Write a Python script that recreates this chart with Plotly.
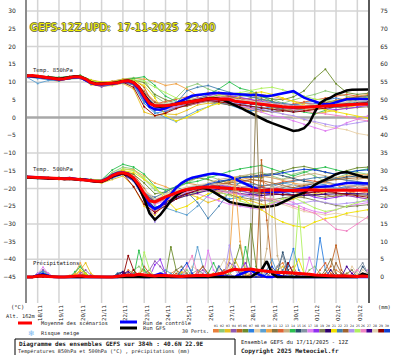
import plotly.graph_objects as go
import pandas as pd

def vals(s):
    return [float(v) for v in s.replace("|", " ").split()]

# ---------------- time axes ----------------
RUN_START = "2025-11-17 12:00"
RUN_END = "2025-12-03 12:00"
TIMES_6H = pd.date_range(RUN_START, periods=65, freq="6h")
TIMES_12H = pd.date_range(RUN_START, periods=33, freq="12h")
DAYS = pd.date_range("2025-11-18", "2025-12-03", freq="D")
DAY_LABELS = ["18/11", "19/11", "20/11", "21/11", "22/11", "23/11", "24/11", "25/11",
              "26/11", "27/11", "28/11", "29/11", "30/11", "01/12", "02/12", "03/12"]

LEFT_TICKS = [30, 25, 20, 15, 10, 5, 0, -5, -10, -15, -20, -25, -30, -35, -40, -45]
RIGHT_TICKS = [75, 70, 65, 60, 55, 50, 45, 40, 35, 30, 25, 20, 15, 10, 5, 0]
HGRID = [30, 20, 10, -10, -20, -30, -40]

MEMBER_COLORS = ["#e8803c", "#8cc878", "#e8c020", "#9058b0", "#c06424", "#6c8c2c",
                 "#2c80e0", "#e8d0a8", "#5ca0d0", "#f0a448", "#847444", "#e06434",
                 "#c8b084", "#2cc050", "#2c5070", "#8494a4", "#e080f0", "#9030f0",
                 "#808054", "#300070", "#f0e000", "#4480b0", "#a06430", "#b094f0",
                 "#b0f060", "#f084c4", "#400090", "#e0d0b0", "#900000", "#1040d0"]

# ---------------- 850 hPa temperature ----------------
T850_MEAN = vals("11.7 11.8 11.6 11.4 11.2 11.0 10.8 10.9 11.2 11.5 11.4 10.8 9.8 9.4 9.4 9.5 9.6 9.8 10.2 10.3 9.8 8.5 6.0 "
                 "4.0 3.3 3.2 3.3 3.5 3.8 4.1 4.4 4.6 4.8 5.0 5.3 5.3 5.1 5.2 5.1 4.6 4.4 4.3 4.0 3.8 3.7 3.5 3.3 3.1 "
                 "3.0 2.9 2.8 2.9 2.9 3.0 3.0 3.1 3.2 3.3 3.4 3.5 3.6 3.6 3.7 3.7 3.8")
T850_CTRL = vals("11.6 11.7 11.5 11.3 11.1 10.9 10.7 10.8 11.1 11.4 11.3 10.6 9.7 9.3 9.3 9.4 9.5 9.7 10.1 10.2 9.6 8.0 5.5 "
                 "3.0 2.3 2.2 2.6 3.3 4.0 4.8 5.6 6.1 6.3 6.5 6.8 6.9 6.9 6.8 6.7 6.5 6.3 6.2 6.3 6.4 6.2 6.0 6.2 6.5 "
                 "6.6 7.0 7.4 6.5 5.6 5.0 4.4 4.0 3.7 3.8 4.3 4.8 5.1 5.2 5.2 5.2 5.2")
T850_GFS = vals("11.8 11.7 11.5 11.4 11.3 11.1 10.9 11.0 11.3 11.6 11.5 10.9 9.9 9.5 9.5 9.6 9.7 9.9 10.3 10.4 9.9 8.6 "
                "6.5 4.2 3.2 3.0 3.2 3.5 3.8 4.1 4.3 4.6 4.9 5.2 5.4 5.5 5.3 4.8 4.2 3.5 2.8 2.0 1.2 0.5 -0.2 -1.0 -1.6 "
                "-2.2 -2.8 -3.4 -3.8 -3.6 -3.0 -1.5 1.5 4.0 5.0 5.6 6.5 7.0 7.6 7.8 7.9 7.9 7.9")
T850_PERTS = [
    "11.5 11.8 11.0 10.5 11.0 11.8 10.4 9.0 9.8 10.6 | 10.4 7.5 4.5 3.0 2.5 3.8 4.2 5.5 6.0 5.0 | 3.5 4.2 5.0 4.0 3.2 2.5 1.8 2.4 3.5 4.0 | 3.0 3.5 4.2",
    "11.8 11.4 11.5 11.0 10.8 11.0 9.5 9.8 10.2 10.8 | 11.2 10.5 6.0 4.0 5.5 8.5 9.5 8.0 7.0 5.8 | 6.5 7.0 6.0 5.2 4.0 5.0 5.8 6.5 7.5 6.8 | 6.0 5.5 5.2",
    "11.6 11.2 10.8 10.2 11.0 11.2 9.2 8.8 9.0 9.6 | 8.0 1.5 0.5 1.0 0.8 2.0 3.5 4.0 3.8 4.5 | 3.0 2.0 1.5 2.5 3.8 3.0 2.2 1.0 1.5 2.0 | 2.8 3.5 4.0",
    "11.7 11.5 11.3 10.6 11.4 11.0 9.6 8.6 9.4 10.0 | 9.6 5.0 2.0 2.5 3.5 4.5 5.5 6.0 5.5 4.2 | 3.5 2.8 2.0 1.5 2.5 3.5 4.0 3.8 3.2 2.8 | 3.2 3.8 4.5",
    "11.9 11.7 11.4 11.0 11.6 11.5 10.0 9.5 9.8 10.4 | 10.8 8.5 2.5 1.5 2.8 3.2 4.0 4.8 4.5 3.8 | 3.2 4.5 5.2 4.6 3.5 2.6 2.0 2.5 3.8 4.6 | 5.0 4.2 3.6",
    "11.6 11.6 11.1 10.9 11.3 11.7 10.2 9.6 9.9 10.5 | 10.6 9.8 6.5 5.0 4.0 5.0 6.2 6.8 6.0 5.5 | 5.0 5.5 5.8 5.2 5.0 5.8 7.5 11.0 13.6 9.5 | 7.0 6.5 6.8",
    "11.4 11.0 10.6 10.3 11.0 11.3 9.6 9.0 9.3 9.8 | 9.2 4.0 1.2 1.8 2.8 3.8 4.5 5.0 4.2 3.5 | 2.5 1.8 2.5 3.0 2.2 1.5 2.5 3.8 4.8 5.5 | 4.8 4.0 3.5",
    "11.8 11.9 11.5 11.2 11.5 11.6 10.3 9.7 9.7 10.3 | 10.0 7.0 3.5 3.2 4.2 5.0 5.6 6.0 5.8 6.5 | 5.5 4.2 3.0 2.0 1.0 0.2 -0.8 -1.5 -2.5 -3.0 | -3.5 -4.5 -5.0",
    "11.3 9.6 10.4 10.5 10.9 11.2 9.4 9.5 9.8 10.1 | 9.4 5.5 1.5 0.0 -1.2 0.5 2.0 3.0 4.5 3.8 | 4.0 3.2 2.8 2.0 2.6 3.4 4.2 4.5 3.8 3.0 | 3.5 4.2 4.8",
    "11.7 11.8 11.3 10.7 11.3 11.6 10.6 10.0 10.2 10.8 | 11.0 10.8 10.2 9.0 9.5 8.0 6.0 7.0 6.5 6.2 | 5.0 5.5 6.5 6.0 5.2 4.5 4.0 3.5 4.2 5.0 | 5.5 6.0 6.5",
    "11.6 11.5 11.0 10.8 11.1 11.3 9.8 9.5 9.5 10.0 | 9.2 6.8 3.0 2.5 3.0 3.2 4.0 4.5 4.0 3.5 | 3.0 2.5 2.0 1.5 1.8 2.2 2.6 3.2 3.5 3.0 | 2.5 2.8 3.0",
    "11.8 11.6 11.4 11.0 11.4 11.5 10.1 9.6 9.7 10.3 | 10.2 6.5 3.8 4.5 5.2 5.8 6.2 6.6 7.0 6.0 | 5.5 5.0 4.2 3.5 3.0 3.8 4.4 5.0 5.5 6.0 | 6.5 6.0 5.5",
    "11.5 11.7 11.2 10.9 11.2 11.3 9.9 9.3 9.6 10.2 | 9.7 5.8 3.0 2.8 3.2 4.0 4.6 5.1 5.3 5.0 | 4.5 4.0 3.8 3.2 2.8 2.5 2.4 2.8 3.0 3.4 | 3.8 4.0 4.2",
    "11.7 11.6 11.6 11.3 11.5 11.9 10.5 9.8 9.9 10.6 | 11.0 11.5 9.0 6.0 4.5 3.5 5.0 6.5 8.0 10.0 | 8.2 7.5 6.0 4.5 3.0 2.0 1.5 1.0 2.0 3.2 | 4.0 5.0 5.8",
    "11.6 11.4 11.1 10.8 11.2 11.4 9.7 9.4 9.6 10.2 | 9.6 5.2 2.8 3.0 3.6 4.2 4.8 5.3 5.0 4.6 | 4.2 3.9 3.5 3.0 2.7 2.5 2.7 3.0 3.3 3.6 | 3.8 3.7 3.9",
    "11.8 11.5 11.3 10.7 11.2 11.4 9.9 9.4 9.5 10.1 | 9.9 6.2 3.5 3.8 4.5 5.0 5.2 5.6 5.4 5.8 | 5.0 4.5 4.2 3.8 3.4 3.0 3.2 3.5 3.8 4.0 | 4.2 4.5 4.4",
    "11.7 11.6 11.2 10.9 11.1 11.2 9.7 9.3 9.5 10.0 | 9.5 5.0 2.5 2.2 3.0 3.5 4.0 4.8 4.5 4.0 | 3.2 2.5 1.5 0.5 0.0 -1.0 -2.0 -3.0 -3.8 -3.0 | -1.5 -0.5 0.5",
    "11.6 11.5 11.1 10.8 11.3 11.3 9.8 9.4 9.6 10.2 | 9.8 6.0 3.2 3.0 3.8 4.6 5.4 6.2 6.8 6.2 | 5.6 5.0 4.5 4.0 3.6 3.4 3.1 2.8 2.5 2.2 | 2.5 3.0 3.4",
    "11.7 11.6 11.3 10.8 11.2 11.5 9.9 9.5 9.7 10.3 | 10.0 6.6 3.6 3.4 3.9 4.4 4.9 5.4 5.2 5.2 | 4.7 4.2 3.9 3.5 3.2 3.0 3.2 3.3 3.5 3.7 | 3.9 4.1 4.2",
    "11.6 11.6 11.2 10.8 11.3 11.4 9.8 9.4 9.6 10.2 | 9.8 5.9 3.1 3.3 3.8 4.3 4.6 5.1 5.0 4.8 | 4.2 3.8 3.4 3.1 2.8 2.6 2.8 3.0 3.2 3.5 | 3.6 3.7 3.9",
    "11.8 11.7 11.4 11.0 11.4 11.6 10.5 9.9 10.0 10.6 | 10.4 9.0 5.5 0.5 -1.0 0.0 1.5 3.0 4.0 5.0 | 6.0 6.8 7.2 6.5 5.5 4.5 3.5 2.8 2.2 1.5 | 0.8 0.2 -0.2",
    "11.5 11.3 11.0 10.6 11.0 11.2 9.6 9.2 9.5 10.0 | 9.4 4.5 2.0 2.8 4.0 7.5 8.5 9.0 8.0 7.0 | 6.2 5.8 5.0 4.4 4.0 3.5 3.2 3.6 4.2 4.8 | 5.2 5.6 6.0",
    "11.7 11.5 11.2 10.9 11.2 11.3 9.8 9.4 9.6 10.3 | 10.1 7.2 4.2 3.6 3.3 3.8 4.4 5.0 5.6 5.9 | 5.2 4.4 3.6 2.8 2.2 2.0 2.6 3.4 4.2 4.8 | 5.4 5.8 6.2",
    "11.6 11.6 11.2 10.8 11.1 11.3 9.8 9.4 9.5 10.1 | 9.7 5.6 3.0 2.6 3.2 4.0 4.7 5.2 4.9 4.4 | 3.8 3.0 2.2 1.6 1.0 0.5 -0.5 -1.2 -2.0 -2.5 | -2.0 -1.5 -1.0",
    "11.7 11.6 11.3 10.9 11.3 11.5 10.0 9.6 9.8 10.4 | 10.6 10.2 8.5 7.0 5.5 4.8 5.2 5.8 6.2 6.5 | 7.0 7.6 8.2 8.5 7.8 6.8 6.0 5.2 4.8 4.5 | 4.8 5.2 5.6",
    "11.8 11.5 11.3 11.0 11.3 11.4 10.0 9.5 9.7 10.2 | 9.9 6.2 3.4 3.0 3.5 4.2 4.9 5.5 5.8 5.5 | 5.0 4.5 4.0 3.4 2.8 2.2 1.8 1.5 1.0 0.5 | 0.2 -0.5 -1.0",
    "11.6 11.5 11.1 10.8 11.2 11.4 9.8 9.3 9.5 10.1 | 9.8 6.0 3.4 3.2 3.6 4.1 4.6 5.0 4.9 4.7 | 4.2 3.9 3.6 3.2 2.9 2.7 2.9 3.1 3.3 3.5 | 3.6 3.8 3.9",
    "11.7 11.6 11.2 10.9 11.2 11.4 9.9 9.5 9.6 10.2 | 10.0 6.8 3.8 3.8 4.2 4.8 5.2 5.7 5.5 5.3 | 4.9 4.6 4.2 3.8 3.5 3.2 3.4 3.6 3.9 4.2 | 4.4 4.6 4.8",
    "11.6 11.4 11.1 10.7 11.1 11.3 9.7 9.2 9.4 9.9 | 8.5 3.0 0.5 1.2 2.5 3.5 4.2 4.8 4.4 4.0 | 3.5 3.0 2.6 2.2 1.8 1.5 1.8 2.2 2.8 3.2 | 3.6 4.0 4.3",
    "11.7 11.5 11.2 10.8 11.2 11.4 9.8 9.4 9.6 10.2 | 9.9 6.5 3.3 3.5 4.0 4.6 5.0 5.5 5.2 5.0 | 4.4 4.0 3.6 3.2 2.9 2.7 2.9 3.1 3.4 3.6 | 3.8 4.0 4.1",
]

# ---------------- 500 hPa temperature ----------------
T500_MEAN = vals("-16.8 -16.9 -17.0 -17.0 -17.1 -17.2 -17.2 -17.3 -17.2 -17.4 -17.5 -17.6 -17.8 -18.0 -18.0 -17.4 -16.4 "
                 "-15.8 -15.6 -16.0 -17.0 -19.0 -21.5 -23.5 -23.8 -23.0 -22.4 -21.8 -21.2 -20.7 -20.3 -20.0 -19.8 -19.7 "
                 "-19.6 -19.6 -19.8 -19.9 -20.0 -20.1 -20.3 -20.4 -20.5 -20.6 -20.6 -20.5 -20.4 -20.4 -20.5 -20.6 -20.6 "
                 "-20.5 -20.4 -20.3 -20.4 -20.5 -20.5 -20.6 -20.6 -20.5 -20.4 -20.4 -20.5 -20.5 -20.5")
T500_CTRL = vals("-16.7 -16.8 -16.9 -17.1 -17.0 -17.1 -17.3 -17.2 -17.1 -17.3 -17.6 -17.5 -17.7 -18.1 -17.9 -17.2 -16.2 "
                 "-15.6 -15.5 -15.9 -17.2 -19.5 -22.5 -24.8 -25.8 -25.0 -23.5 -21.5 -19.8 -18.5 -17.6 -17.0 -16.6 -16.3 "
                 "-16.0 -15.8 -15.9 -16.2 -16.6 -17.3 -18.0 -18.8 -19.5 -20.2 -20.8 -21.0 -21.0 -21.0 -21.0 -20.8 -20.5 "
                 "-20.2 -19.9 -19.7 -19.6 -19.6 -19.6 -19.4 -19.0 -18.7 -18.5 -18.4 -18.4 -18.5 -18.6")
T500_GFS = vals("-16.9 -17.0 -17.1 -17.0 -17.2 -17.3 -17.1 -17.4 -17.3 -17.5 -17.4 -17.7 -17.9 -18.1 -18.1 -17.5 -16.6 "
                "-16.0 -15.8 -16.2 -17.3 -19.5 -23.0 -27.0 -28.8 -27.5 -25.5 -23.5 -22.0 -21.0 -20.4 -20.0 -19.8 -19.9 "
                "-20.2 -21.0 -22.0 -23.0 -23.8 -24.2 -24.5 -24.8 -25.0 -25.2 -25.3 -25.2 -25.0 -24.6 -24.0 -23.2 -22.4 "
                "-21.8 -21.2 -20.2 -19.0 -18.2 -17.6 -16.8 -16.0 -15.5 -15.4 -15.8 -16.4 -16.7 -16.8")
T500_PERTS = [
    "-16.6 -17.2 -16.9 -17.5 -17.0 -17.8 -17.5 -18.2 -16.0 -14.8 | -16.5 -22.0 -24.5 -21.0 -19.5 -18.5 -19.0 -20.5 -21.5 -20.0 | -18.5 -17.5 -18.0 -19.5 -21.0 -22.0 -20.5 -19.0 -18.0 -19.0 | -20.5 -21.5 -21.0",
    "-17.0 -16.8 -17.3 -17.0 -17.4 -17.2 -17.6 -17.8 -15.5 -14.0 | -14.5 -17.5 -20.5 -21.5 -20.0 -18.5 -17.0 -16.5 -17.5 -18.5 | -17.0 -16.0 -15.5 -16.5 -17.5 -16.0 -15.2 -16.5 -18.0 -17.0 | -16.0 -15.5 -16.0",
    "-16.9 -17.0 -17.2 -17.4 -17.0 -17.6 -18.0 -18.5 -17.5 -16.5 | -19.5 -25.0 -27.5 -24.0 -22.0 -21.5 -22.5 -24.0 -23.0 -21.5 | -23.0 -23.5 -24.5 -25.0 -24.0 -23.0 -22.0 -21.5 -21.0 -21.5 | -22.0 -22.5 -23.0",
    "-16.7 -17.1 -17.0 -17.3 -17.1 -17.4 -17.9 -18.1 -16.5 -15.8 | -17.5 -21.0 -23.0 -22.5 -21.0 -20.0 -19.5 -18.8 -19.5 -20.5 | -21.5 -22.0 -21.0 -20.0 -19.2 -20.0 -21.0 -22.0 -21.5 -20.5 | -19.8 -19.5 -19.0",
    "-16.8 -16.9 -17.1 -17.2 -17.3 -17.5 -17.7 -18.0 -16.8 -15.0 | -16.0 -20.0 -24.0 -23.0 -21.5 -20.5 -19.8 -20.2 -19.0 -18.0 | -17.5 -18.2 -19.5 -20.5 -19.8 -18.8 -19.5 -20.8 -21.8 -22.5 | -21.5 -20.5 -20.0",
    "-16.8 -17.0 -17.2 -17.1 -17.2 -17.6 -17.8 -18.0 -16.2 -15.2 | -16.0 -18.5 -21.5 -21.0 -19.5 -18.0 -17.0 -17.5 -18.5 -17.5 | -16.5 -16.8 -17.0 -16.0 -15.0 -14.2 -13.8 -14.5 -15.5 -16.0 | -15.0 -14.2 -14.0",
    "-16.9 -17.1 -17.2 -17.3 -17.2 -17.5 -17.9 -18.2 -17.0 -16.0 | -18.0 -23.0 -26.0 -25.0 -23.0 -21.0 -19.5 -20.5 -22.0 -23.0 | -22.5 -21.5 -20.5 -21.0 -22.0 -21.0 -19.5 -18.5 -19.0 -20.0 | -19.5 -18.8 -18.5",
    "-16.7 -16.9 -17.0 -17.1 -17.1 -17.3 -17.6 -17.8 -16.0 -15.5 | -16.5 -20.5 -22.5 -21.5 -20.5 -19.5 -20.0 -20.5 -20.0 -19.5 | -20.5 -21.5 -22.5 -23.5 -24.5 -25.5 -26.5 -27.0 -27.5 -27.0 | -27.5 -28.0 -28.5",
    "-16.8 -17.2 -17.3 -17.2 -17.4 -17.6 -18.0 -18.3 -17.2 -16.0 | -17.0 -22.5 -25.0 -25.5 -26.5 -27.5 -25.0 -22.0 -20.0 -19.0 | -18.5 -19.5 -20.5 -19.5 -18.5 -19.0 -20.0 -19.0 -18.2 -18.8 | -19.5 -19.0 -18.8",
    "-16.8 -17.0 -17.0 -17.1 -17.2 -17.4 -17.7 -17.9 -16.5 -14.5 | -14.8 -16.5 -18.5 -19.5 -21.0 -22.0 -21.5 -20.0 -19.0 -18.0 | -17.5 -17.0 -16.5 -17.0 -17.8 -18.5 -19.0 -18.2 -17.5 -17.0 | -16.5 -16.0 -16.2",
    "-16.9 -17.0 -17.2 -17.3 -17.2 -17.5 -17.8 -18.1 -16.6 -15.6 | -17.2 -21.5 -23.5 -22.5 -21.5 -20.8 -20.2 -19.8 -20.0 -20.5 | -20.8 -21.2 -21.5 -21.0 -20.5 -21.0 -21.5 -22.0 -22.5 -22.0 | -21.5 -21.8 -22.0",
    "-16.8 -17.0 -17.1 -17.2 -17.3 -17.4 -17.6 -17.9 -16.2 -15.0 | -16.8 -23.5 -26.5 -24.0 -22.0 -20.5 -19.5 -19.0 -18.5 -18.8 | -19.5 -20.0 -19.5 -18.8 -18.2 -17.8 -17.5 -18.0 -18.5 -19.0 | -19.2 -19.5 -19.8",
    "-16.8 -17.0 -17.1 -17.2 -17.2 -17.5 -17.8 -18.0 -16.4 -15.6 | -17.0 -21.2 -23.5 -22.2 -21.0 -20.2 -19.7 -18.5 -17.5 -17.0 | -16.5 -16.0 -16.5 -17.0 -17.5 -17.0 -16.2 -15.8 -16.5 -17.2 | -17.8 -17.5 -17.0",
    "-16.6 -16.8 -16.9 -17.0 -17.1 -17.2 -17.5 -17.6 -14.8 -13.2 | -14.0 -16.0 -19.5 -20.5 -19.5 -18.5 -18.0 -17.0 -16.0 -15.2 | -14.5 -14.0 -13.5 -14.5 -15.5 -16.5 -15.5 -14.5 -14.0 -14.8 | -15.5 -15.0 -14.5",
    "-16.9 -17.1 -17.2 -17.3 -17.2 -17.5 -17.8 -18.0 -16.6 -15.7 | -17.2 -21.8 -24.0 -22.8 -21.5 -20.6 -20.0 -19.0 -18.2 -17.6 | -17.0 -16.6 -16.2 -15.8 -16.4 -17.2 -18.0 -18.4 -17.8 -17.2 | -16.8 -16.5 -16.8",
    "-16.7 -16.9 -17.0 -17.1 -17.2 -17.4 -17.7 -17.9 -16.3 -15.4 | -16.8 -21.0 -23.2 -22.0 -20.8 -19.8 -19.2 -18.9 -19.2 -19.6 | -19.9 -20.1 -20.3 -20.1 -19.9 -20.0 -19.8 -19.6 -19.8 -20.0 | -19.9 -20.1 -20.2",
    "-16.8 -17.0 -17.1 -17.2 -17.3 -17.5 -17.8 -18.0 -16.5 -15.5 | -17.0 -21.5 -24.5 -23.5 -22.0 -21.0 -21.5 -22.5 -23.5 -24.5 | -25.0 -25.5 -26.0 -24.5 -23.0 -24.0 -25.5 -26.5 -27.0 -26.0 | -25.0 -24.5 -24.0",
    "-16.8 -17.0 -17.2 -17.2 -17.3 -17.5 -17.8 -18.1 -16.6 -15.8 | -17.4 -22.0 -27.0 -24.0 -22.5 -21.5 -20.5 -19.5 -19.0 -19.5 | -20.5 -21.5 -22.0 -21.5 -21.0 -20.5 -21.5 -22.5 -23.0 -22.5 | -22.0 -22.5 -23.0",
    "-16.8 -17.0 -17.1 -17.2 -17.2 -17.5 -17.8 -18.0 -16.4 -15.6 | -17.0 -21.4 -23.7 -22.3 -21.2 -20.3 -19.8 -20.5 -21.0 -21.8 | -22.5 -23.0 -23.5 -23.2 -22.8 -22.2 -22.6 -23.4 -24.2 -24.8 | -25.2 -25.0 -24.6",
    "-16.9 -17.1 -17.2 -17.3 -17.3 -17.6 -17.9 -18.1 -16.7 -15.9 | -17.6 -22.5 -25.5 -24.0 -22.5 -21.5 -20.8 -20.4 -20.6 -21.0 | -21.5 -21.8 -22.0 -21.8 -21.6 -21.8 -22.0 -21.8 -21.6 -21.5 | -21.4 -21.5 -21.6",
    "-16.7 -16.9 -17.0 -17.0 -17.1 -17.3 -17.6 -17.8 -16.2 -15.0 | -15.5 -17.5 -19.5 -23.0 -26.0 -25.0 -23.0 -21.5 -20.5 -21.0 | -22.5 -24.5 -26.0 -28.0 -29.5 -30.5 -31.0 -29.5 -28.5 -28.0 | -27.0 -26.5 -26.0",
    "-16.8 -17.0 -17.1 -17.2 -17.2 -17.4 -17.7 -17.9 -16.3 -15.3 | -16.8 -21.5 -22.5 -21.0 -19.5 -21.0 -24.0 -28.5 -25.0 -21.0 | -18.2 -18.8 -19.2 -19.0 -18.5 -18.0 -17.5 -17.0 -16.8 -17.2 | -17.8 -18.2 -18.5",
    "-16.9 -17.0 -17.2 -17.3 -17.2 -17.6 -17.9 -18.1 -16.8 -15.8 | -17.5 -22.2 -24.2 -23.0 -21.8 -20.8 -20.0 -19.5 -19.0 -18.5 | -18.0 -17.5 -17.8 -18.5 -19.2 -19.8 -19.2 -18.5 -18.0 -17.5 | -17.2 -17.0 -17.2",
    "-16.8 -17.0 -17.1 -17.2 -17.3 -17.5 -17.8 -18.0 -16.5 -15.6 | -17.1 -21.6 -29.5 -25.0 -21.6 -20.6 -20.2 -20.0 -20.4 -21.0 | -21.8 -22.5 -23.2 -23.8 -24.2 -24.5 -24.0 -23.5 -24.0 -24.5 | -24.2 -23.8 -23.5",
    "-16.7 -16.9 -17.0 -17.1 -17.1 -17.3 -17.6 -17.8 -15.8 -14.5 | -15.0 -17.0 -20.0 -22.0 -23.0 -22.0 -21.0 -20.5 -21.0 -22.0 | -23.5 -24.5 -25.0 -24.0 -23.0 -22.5 -24.0 -25.5 -26.5 -26.0 | -25.0 -24.0 -23.0",
    "-16.8 -17.0 -17.1 -17.2 -17.3 -17.5 -17.8 -18.0 -16.6 -15.7 | -17.3 -21.8 -24.2 -23.0 -21.8 -21.0 -20.6 -20.5 -20.8 -21.2 | -21.6 -22.0 -22.5 -23.0 -24.0 -25.0 -26.0 -27.0 -29.0 -31.5 | -32.0 -30.0 -28.0",
    "-16.9 -17.1 -17.2 -17.3 -17.3 -17.6 -17.9 -18.2 -16.9 -16.0 | -17.8 -22.8 -25.8 -24.5 -23.0 -22.0 -21.2 -20.6 -20.2 -20.0 | -19.8 -19.5 -19.8 -20.2 -20.6 -21.0 -21.2 -21.0 -20.8 -20.6 | -20.4 -20.5 -20.6",
    "-16.7 -16.9 -17.0 -17.1 -17.2 -17.4 -17.7 -17.9 -16.2 -15.4 | -16.6 -20.8 -23.0 -21.8 -20.6 -19.6 -19.0 -18.6 -18.8 -19.2 | -19.6 -19.8 -20.0 -19.8 -19.4 -19.0 -18.6 -18.4 -18.6 -19.0 | -19.2 -19.4 -19.5",
    "-16.8 -17.0 -17.1 -17.2 -17.2 -17.5 -17.8 -18.0 -16.5 -15.8 | -19.5 -24.5 -26.8 -25.0 -23.0 -21.5 -20.5 -19.8 -19.5 -19.8 | -20.3 -20.8 -21.2 -21.5 -21.8 -22.0 -21.5 -21.0 -20.8 -21.2 | -21.8 -22.2 -22.5",
    "-16.8 -17.0 -17.2 -17.2 -17.3 -17.5 -17.8 -18.0 -16.5 -15.6 | -17.2 -21.6 -23.8 -22.5 -21.3 -20.4 -19.9 -18.8 -18.0 -17.5 | -17.0 -16.8 -16.5 -16.2 -15.6 -15.0 -14.6 -14.8 -15.4 -16.0 | -15.6 -15.0 -14.8",
]

# ---------------- precipitation (mm / 6h, right axis) ----------------
PR_MEAN = vals("0 0 0.3 0.4 0.2 0 0 0 0.1 0.3 0.4 0.2 0.1 | 0 0 0 0 0.2 0.4 0.6 0.5 0.8 0.6 0.4 0.3 0.5 | "
               "0.4 0.5 0.3 0.2 0.3 0.4 0.6 0.5 0.4 0.6 0.8 1.2 1.8 | 2.2 2.0 2.1 2.3 2.0 1.8 1.6 1.4 1.3 1.4 1.3 1.1 1.2 | "
               "1.0 0.8 0.6 0.5 0.4 0.3 0.3 0.4 0.3 0.2 0.2 0.3 0.2")
PR_CTRL = vals("0 0 0.5 0.8 0.3 0 0 0 0 0 0 0 0 | 0 0 0 0 0 0.3 0.6 0.2 0 0 0 0.5 1 | 0.5 0 0 0 0 0 0 0 0 0.3 0.5 0.2 0 | "
               "0 0.8 1.5 2 1 0.5 0 0 0.5 0.2 0 0 0 | 0 0 0 0 0 0 0 0 0 0 0 0 0")
PR_GFS = vals("0 0 0.3 0.6 0.2 0 0 0 0 0 0 0 0 | 0 0 0 0 0 0 0 0 0 0 0 0 0 | 0 0 0 0 0 0 0 0 0 0 0 0 0 | "
              "0 0 0 0 1 2 4.5 1 0 0 0 0 0 | 0 0 0 0 0 0 0 0 0 0 0 1 0.5")
PR_PERTS = [
    "0 0 0.5 1 0 0 0 0 0 0.5 1.5 0.5 0 | 0 0 0 0 0 0.5 2 1 0.5 1 0.5 0 0 | 0 1 2 1 0 0 1.5 3 1 0 0.5 1 2 | 3 1 0.5 0 1 2 1 0 3 4 1 0 0.5 | 0 0 1 0 0 0 2 1 0 0 0.5 0 0",
    "0 0 1 2 0.5 0 0 0 0 1 3 1 0 | 0 0 0 0 0 0 1 2 3 1.5 0.5 0 0 | 0.5 0 0 1 2 0.5 0 0 0 1 0.5 0 1 | 2 1 0 0 0 1 0 2 1 0 0 0 0 | 0 2 3 1 0 0 1 0 0 0 0 0 0",
    "0 0 0.5 1 0 0 0 0 0 0.5 2 4 1 | 0 0 0 0 0 0 0 0.5 1 2 1 0.5 0 | 0 0 0 1.5 1 0 0 0 0 1 0 0 2 | 5 2 1 0 0 0 0 0 2 3 1 0 0 | 0 0 0 0 0 0 0 0 1 0 0 0 0",
    "0 0 0.5 2 1 0 0 0 0 0 1 2 0.5 | 0 0 0 0 0 0 0 1 0 1 2 4.5 3 | 1 0 0 0 0 0 1 2 0.5 0 0 0 4 | 3 1 0 0 0 0 0 0 0 0 1 2 0 | 0 0 0 0 0 0 0 0 0 0 0 0 0",
    "0 0 0 0.5 0 0 0 0 0 0 0.5 0 0 | 0 0 0 0 0 0 0 2 0.5 3 1 0 0 | 0 0 1 0.5 0 0 0 0 0 0.5 1 2 1 | 0 0 0 1 0 33 16 2 0.5 0 0 0 0 | 0 0 0 0 1 3 9 2 0 0 0 0 0",
    "0 0 0 0 0 0 0 0 0 0 0.5 1 0 | 0 0 0 0 0 0 0 1 0 0 0 0 0 | 0 8.5 2 0 0 0 0 0 0 0 0 0 1 | 4 9 1 15 3 0 0 0 0 0 0 0 0 | 0 0 0 0 0 0 0 0 0 0 0 0 0",
    "0 0 1 1.5 0.5 0 0 0 0 0 0.5 0 0 | 0 0 0 0 1 1.5 0.5 0 0 0 0 0 0 | 0 0 0 0.5 1 0 0 0 0 0 0 0 0 | 0 0 0 0 0 0 0 0 0 0 3 8 2 | 0 0 0 11 2 0 0 0 0 0 0 0 0",
    "0 0 0 0.5 0 0 0 0 0.5 1 0.5 0 0 | 0 0 0 0 0 0 0 0 0.5 1 0.5 0 0 | 0 0 0 0 1 3 2 0 0 0 0 0 0 | 0 0 0 0 2 0 0 0 0 0 0 0 0 | 0 0 0 0 0 0 0 0 0 3 1 0 0",
    "0 0 0 0 0 0 0 0 0 0 0 0 0 | 0 0 0 0 0 0 0 1 0.5 0 0 0 1 | 2 1 0 0 0 2 8.5 3 0 0 0 0 0 | 0 0 0 0 0 0 2 5 1 0 0 0 0 | 0 0 0 0 0 0 0 1 0 0 0 0 0",
    "0 0 0 0 0 0 0 0 0 1 4 1 0 | 0 0 0 0 0 0 0 0 0 0 0 0 0 | 0 0 0 0 0 0 0 0 0 0 0 1 5 | 28 10 2 0 0 0 0 0 0 0 0 0 0 | 0 0 0 0 0 0 0 0 0 0 0 0 0",
    "0 0 0 0 0 0 0 0 0 0 0 0 0 | 0 0 0 0 0 0 0 0 0 0 0 0 0 | 0 0 0 0 0 0 0 0 0 0 0 0 0 | 0 0 0 0 52 0 0 0 0 0 0 0 0 | 0 0 0 0 2 5 1 0 0 0 0 0 0",
    "0 0 0 0 0 0 0 0 0 0 0 0 0 | 0 0 0 0 0 0 0 0 0 0 0 0 0 | 0 0 0 0 0 0 0 0 0 0.5 1 0.5 0 | 0 0 0 0 0 0 0 0 0 0 2 3 0 | 0 0 0 2 4 1 0 0 0 0 0 0 0",
    "0 0 0 0 0 0 0 0 0 0 0 0 0 | 0 0 0 0 0 0 0 0 0 0 0 0 0 | 0 0 0 0 0 0 0 0 0 0 0 0 0 | 0 0 0 0 0 0 8 30 6 1 0 0 0 | 0 0 0 0 0 0 0 0 0 0 0 0 0",
    "0 0 0.5 1 0.5 0 0 0 0 1.5 3 1 0 | 0 0 0 0 0 0 0 0 7.5 2 0.5 0 0 | 0 0 0 0 0 0 0 0 1 4 1 0 0 | 0 0 8.5 2 0 0 0 0 0 0 0 0 0 | 0 0 0 0 0 0 0 0 0 0 0 0 0",
    "0 0 0 0 0 0 0 0 0 0 0 0 0 | 0 0 0 0 1 1.5 0.5 0 0 0 0 0 0 | 0 0 0 0 0 0 0 0 0 0 0 0 0 | 0 0 0 0 0 0 0 0 1 7 2 0 0 | 0 0 0 0 0 0 0 0 0 0 0 3 1",
    "0 0 0 0 0 0 0 0 0 0 0 0 0 | 0 0 0 0 0 0 0 0 0 0 0 0 0 | 0 0 0 0 0 1 2 1 0 0 0 0 0 | 0 0 0 0 0 0 0 0 3 6 1 0 0 | 0 0 0 0 0 0 0 0 0 0 2 4 1",
    "0 0 1 2.8 1 0 0 0 0 0 0 0 0 | 0 0 0 0 0 0 0 0 0 0 0 0 0 | 0 0 0 0 0 0 0 0 7.5 2 0 0 0 | 0 0 0 0 0 0 0 0 0 0 0 0 0 | 0 5.5 1 0 0 0 0 0 0 0 0 0 2",
    "0 0 0 0.5 0 0 0 0 0 0 0 0 0 | 0 0 0 0 0 0 0 0 0 0 0 3.5 5 | 1 0 0 0 0 0 0 0 0 0 0 0 0 | 0 2 4 1 0 0 0 0 0 0 0 0 0 | 0 0 0 0 0 0 0 0 0 0 0 0 0",
    "0 0 0 0 0 0 0 0 0 0 0 0 0 | 0 0 0 0 0 0 0 0 0 0 0 0 0 | 0 0 2 3 1 0 0 0 0 0 0 0 0 | 0 0 0 0 0 0 0 2 0 0 0 0 0 | 0 0 0 0 0 0 0 0 1 2 0 0 0",
    "0 0 0 0 0 0 0 0 0 0 0 0 0 | 0 0 0 0 0.5 1.5 0 0 0 0 0 0 0 | 0 0 0 0 0 0 0 0 0 0 3 1 0 | 0 0 0 0 0 0 0 0 0 0 0 0 0 | 0 0 0 0 0 2 0 0 0 0 0 0 0",
    "0 0 0 0 0 0 0 0 0 0.5 2 1 0 | 0 0 0 0 0 0 0 0 0 0 0 0 0 | 0 0 0 0 0 0 0 0 0 0 0 0 0 | 0 0 0 0 0 0 0 0 0 0 0 2 5 | 1 0 0 0 0 0 0 0 0 0 0 0 0",
    "0 0 0 0 0 0 0 0 0 0 0 0 0 | 0 0 0 0 0 0 0 0 0 0 0 0 0 | 0 0 0 0 0 0 0 0 0 0 3 1 0 | 0 0 0 0 0 0 0 0 0 2 4 1 0 | 0 0 0 0 0 0 0 0 0 0 0 0 0",
    "0 0 0 0 0 0 0 0 0 0 0 0 0 | 0 0 0 0 0 0 0 0 0 0 0 0 0 | 0 0 0 0 0 0 1 3 1 0 0 0 0 | 0 0 0 0 0 0 0 0 0 0 0 0 0 | 0 0 0 0 0 0 4 1 0 0 0 0 0",
    "0 0 0 0 0 0 0 0 0 0 0 0 0 | 0 0 0 0 0 0 0 0 0 0 0 0 0 | 0 0 0 0 0 0 0 0 0 0 0 0 9 | 2 0 0 0 0 0 0 0 0 0 0 0 0 | 0 0 0 0 0 0 0 0 0 0 0 0 0",
    "0 0 0 0 0 0 0 0 0 0 0 0 0 | 0 0 0 0 0 0 0 0 0 7 2 0 0 | 0 0 0 0 0 0 0 0 0 0 0 0 0 | 0 0 0 0 0 0 0 0 0 0 0 0 20 | 1 0 0 0 0 0 0 0 0 0 0 0 0",
    "0 0 0 0 0 0 0 0 0 0 0 0 0 | 0 0 0 0 0 0 0 0 0 0 0 0 0 | 0 0 0 0 3 6 1 0 0 0 0 0 0 | 0 0 0 0 0 0 0 0 0 0 0 0 0 | 0 0 0 0 0 0 0 0 0 1 2 0.5 0",
    "0 0 0 0 0 0 0 0 0 0 0 0 0 | 0 0 0 0 0 1 1.5 0.5 0 0 0 0 0 | 0 0 0 0 0 0 0 0 0 0 0 0 0 | 0 0 0 0 0 0 0 0 0 0 0 0 0 | 0 0 0 0 0 0 0 0 3 1 0 0 0",
    "0 0 0 0 0 0 0 0 0 0 0 0 0 | 0 0 0 0 0 0 0 0 0 0 0 0 0 | 0 0 0 0 0 0 0 0 0 0 2 5 1 | 0 0 0 0 0 0 0 0 0 0 0 0 0 | 0 0 0 0 0 0 0 0 0 0 0 2 1",
    "0 0 0 0 0 0 0 0 0 0 0 0 0 | 0 0 0 0 0 0 6 2 0 0 0 0 0 | 0 0 0 0 0 0 0 0 0 0 0 0 0 | 0 0 0 0 0 0 0 0 0 0 4 1 0 | 0 0 0 0 0 0 0 0 0 0 0 0 0",
    "0 0 0.5 1 0.5 0 0 0 0 0 0 0 0 | 0 0 0 0 0 0 0 0 0 0 0 0 0 | 0 0 0 2 4 1 0 0 0 0 0 0 0 | 0 0 0 0 0 0 1 3 1 0 0 0 0 | 0 0 0 0 0 0 0 0 0 0 0 0 0",
]

for name, s in [("T850", T850_PERTS), ("T500", T500_PERTS)]:
    for k, row in enumerate(s):
        assert len(vals(row)) == 33, (name, k + 1, len(vals(row)))
for k, row in enumerate(PR_PERTS):
    assert len(vals(row)) == 65, ("PR", k + 1, len(vals(row)))
for arr in [T850_MEAN, T850_CTRL, T850_GFS, T500_MEAN, T500_CTRL, T500_GFS, PR_MEAN, PR_CTRL, PR_GFS]:
    assert len(arr) == 65, len(arr)

# ---------------- geometry (pixels) ----------------
W, H = 395, 355
PL, PR, PT, PB = 27, 368, 0, 303
Y_RANGE = [-52.3, 33.1]
PR_OFFSET = 45  # right axis value = left axis value + 45
MONO = "DejaVu Sans Mono"


def xp(px):
    return (px - PL) / (PR - PL)


def yp(py):
    return (PB - py) / (PB - PT)


fig = go.Figure()

# members
for k in range(30):
    c = MEMBER_COLORS[k]
    common = dict(mode="lines+markers", line=dict(color=c, width=0.9), marker=dict(size=2, color=c),
                  hoverinfo="skip", showlegend=False)
    fig.add_trace(go.Scatter(x=TIMES_12H, y=vals(T850_PERTS[k]), **common))
    fig.add_trace(go.Scatter(x=TIMES_12H, y=vals(T500_PERTS[k]), **common))
    fig.add_trace(go.Scatter(x=TIMES_6H, y=vals(PR_PERTS[k]), yaxis="y2", **common))

# control, GFS, mean
for series, yaxis, color, width in [
    (T850_CTRL, "y", "#0000ff", 2.5), (T500_CTRL, "y", "#0000ff", 2.5), (PR_CTRL, "y2", "#0000ff", 2.5),
    (T850_GFS, "y", "#000000", 2.5), (T500_GFS, "y", "#000000", 2.5), (PR_GFS, "y2", "#000000", 2.5),
    (T850_MEAN, "y", "#ff0000", 3), (T500_MEAN, "y", "#ff0000", 3), (PR_MEAN, "y2", "#ff0000", 3),
]:
    fig.add_trace(go.Scatter(x=TIMES_6H, y=series, yaxis=yaxis, mode="lines",
                             line=dict(color=color, width=width), hoverinfo="skip", showlegend=False))

shapes = []
for v in HGRID:
    shapes.append(dict(type="line", xref="paper", yref="y", x0=0, x1=1, y0=v, y1=v,
                       line=dict(color="#d4d4d4", width=1.5), layer="below"))
for d in DAYS:
    shapes.append(dict(type="line", xref="x", yref="paper", x0=d, x1=d, y0=0, y1=1,
                       line=dict(color="#d4d4d4", width=1.5), layer="below"))
shapes.append(dict(type="line", xref="paper", yref="y", x0=0, x1=1, y0=0, y1=0,
                   line=dict(color="#a8a8a8", width=2.5), layer="below"))

# legend line samples
for (x0, x1, py, col) in [(18, 32, 323, "#ff0000"), (120, 137, 322, "#0000ff"), (120, 137, 328, "#000000")]:
    shapes.append(dict(type="line", xref="paper", yref="paper", x0=xp(x0), x1=xp(x1), y0=yp(py), y1=yp(py),
                       line=dict(color=col, width=3)))
# member colour squares
SQ_X0, SQ_W = 213, 5.9
for k in range(30):
    shapes.append(dict(type="rect", xref="paper", yref="paper",
                       x0=xp(SQ_X0 + k * SQ_W), x1=xp(SQ_X0 + (k + 1) * SQ_W),
                       y0=yp(332.5), y1=yp(329), line=dict(width=0), fillcolor=MEMBER_COLORS[k]))
# info box
shapes.append(dict(type="rect", xref="paper", yref="paper", x0=xp(15), x1=xp(235), y0=yp(356), y1=yp(339),
                   line=dict(color="#000000", width=1), fillcolor="rgba(0,0,0,0)"))


def ann(text, px, py, size, bold=False, color="#1a1a1a", family=MONO, xanchor="left", **kw):
    return dict(text=(f"<b>{text}</b>" if bold else text), x=xp(px), y=yp(py), xref="paper", yref="paper",
                xanchor=xanchor, yanchor="middle", showarrow=False, borderpad=0,
                font=dict(size=size, color=color, family=family, **kw))


annotations = [
    ann("GEFS-12Z-UPD:\u00a0\u00a017-11-2025\u00a0\u00a022:00", 29, 27, 10.5, family="DejaVu Sans",
        color="#f2f200",
        shadow="1px 0 0 #707050, -1px 0 0 #707050, 0 1px 0 #707050, 0 -1px 0 #707050"),
    ann("Temp. 850hPa", 32, 70, 5.5),
    ann("Temp. 500hPa", 32, 169, 5.5),
    ann("Précipitations", 32, 263, 5.5),
    ann("(°C)", 10, 307, 5.5),
    ann("Alt. 162m", 5, 316, 5.3),
    ann("(mm)", 377, 307, 5.3),
    ann("Moyenne des scénarios", 40, 323, 5.3),
    ann("Run de contrôle", 142, 322.5, 5.3),
    ann("Run GFS", 142, 328, 5.3),
    ann("\u2744", 31, 333, 8, color="#7ab8f0", family="DejaVu Sans", xanchor="center"),
    ann("Risque neige", 40, 333, 5.3),
    ann("30 Perts.", 181, 331, 5.0),
    ann("Diagramme des ensembles GEFS sur 384h : 40.6N 22.9E", 18, 343.5, 6, bold=True),
    ann("Températures 850hPa et 500hPa (°C) , précipitations (mm)", 17, 351, 5.1),
    ann("Ensemble GEFS du 17/11/2025 - 12Z", 240, 341.5, 5.4),
    ann("Copyright 2025 Meteociel.fr", 240, 351, 6, bold=True),
]
for k in range(30):
    annotations.append(ann(f"{k + 1:02d}", SQ_X0 + (k + 0.5) * SQ_W, 326, 3.2, xanchor="center"))

label_pos = [d + pd.Timedelta(hours=3) for d in DAYS]

fig.update_layout(
    width=W, height=H,
    margin=dict(l=PL, r=W - PR, t=PT, b=H - PB, pad=0),
    paper_bgcolor="white", plot_bgcolor="white",
    showlegend=False,
    xaxis=dict(type="date", range=[RUN_START, RUN_END], tickmode="array", tickvals=label_pos,
               ticktext=DAY_LABELS, tickangle=-90, showgrid=False, zeroline=False, showline=False,
               ticks="", tickfont=dict(size=5.5, family="DejaVu Sans", color="#222")),
    yaxis=dict(range=Y_RANGE, tickmode="array", tickvals=LEFT_TICKS, showgrid=False, zeroline=False,
               showline=True, linecolor="#8c8c8c", linewidth=2, ticks="", ticklabelstandoff=8,
               tickfont=dict(size=6, family="DejaVu Sans", color="#222")),
    yaxis2=dict(range=[Y_RANGE[0] + PR_OFFSET, Y_RANGE[1] + PR_OFFSET], overlaying="y", side="right",
                tickmode="array", tickvals=RIGHT_TICKS, showgrid=False, zeroline=False,
                showline=True, linecolor="#5a5a5a", linewidth=2, ticks="", ticklabelstandoff=9,
                tickfont=dict(size=6, family="DejaVu Sans", color="#222")),
    shapes=shapes,
    annotations=annotations,
)

fig.write_html("out.html")
